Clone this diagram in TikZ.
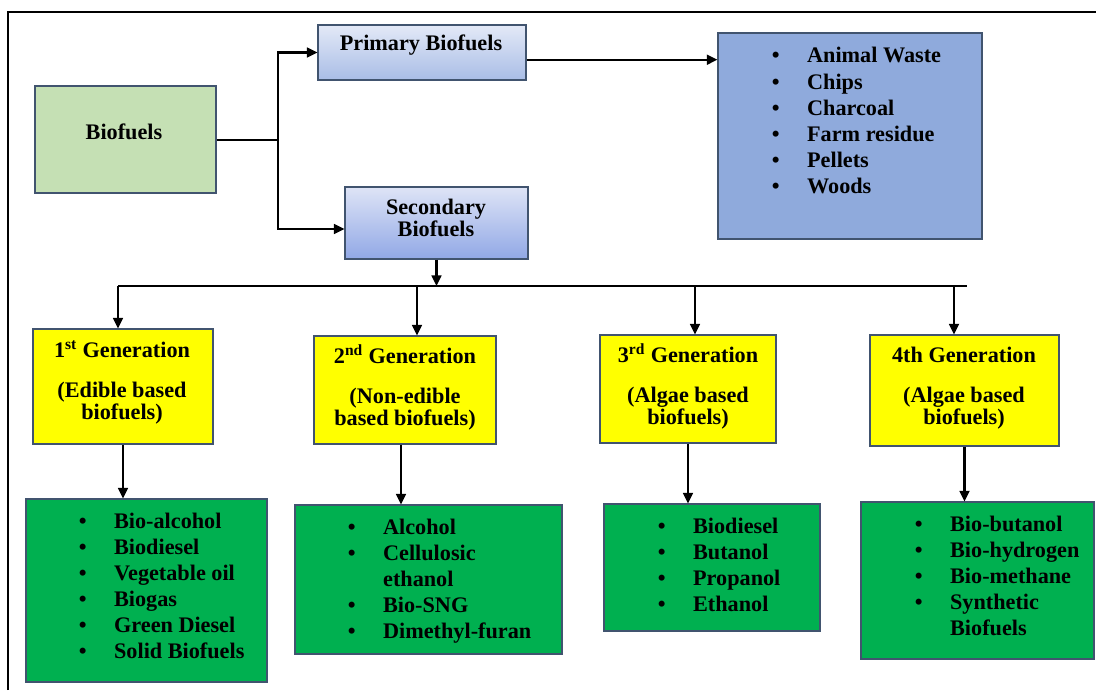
\documentclass[tikz,border=0pt]{standalone}
\usepackage{fontspec}
\setmainfont{Liberation Serif}
\usetikzlibrary{arrows.meta,fit}

\definecolor{boxline}{HTML}{41546F}
\definecolor{biogreen}{HTML}{C5E0B4}
\definecolor{primtop}{HTML}{E3E9F7}
\definecolor{primbot}{HTML}{A9BDE6}
\definecolor{sectop}{HTML}{DEE4F6}
\definecolor{secbot}{HTML}{91A8E6}
\definecolor{listblue}{HTML}{8FAADC}
\definecolor{genyellow}{HTML}{FFFF00}
\definecolor{listgreen}{HTML}{00B050}

\newcommand{\fuellist}[1]{\begin{tabular}[t]{@{}p{25pt}@{}l@{}}#1\end{tabular}}
\newcommand{\genlabel}[3]{\begin{tabular}[t]{@{}c@{}}#1\\[12.5pt]#2\\#3\end{tabular}}

\begin{document}
\begin{tikzpicture}[
  x=0.025cm, y=-0.025cm,
  box/.style={draw=boxline, line width=0.8pt, inner sep=0pt},
  lbl/.style={inner sep=0pt, anchor=base, font=\bfseries\fontsize{15.8}{16}\selectfont},
  items/.style={inner sep=0pt, anchor=base west, font=\bfseries\fontsize{15.8}{18.5}\selectfont},
  link/.style={line width=1.5pt},
  arr/.style={link, -{Triangle[length=7.5pt,width=7pt]}}
]
\useasboundingbox (0,0) rectangle (1096,690);
\draw[line width=1.4pt] (8,690) -- (8,12) -- (1096,12);

% top part
\node[box, fill=biogreen, fit={(35,86) (216,193)}] (bio) {};
\node[lbl] (biotxt) at (124,139) {Biofuels};

\node[box, top color=primtop, bottom color=primbot, fit={(318,25) (526,80)}] (prim) {};
\node[lbl] (primtxt) at (421,51) {Primary Biofuels};

\node[box, top color=sectop, bottom color=secbot, fit={(345,187) (528,259)}] (sec) {};
\node[lbl] (sectxt) at (436,214) {\begin{tabular}[t]{@{}c@{}}Secondary\\Biofuels\end{tabular}};

\node[box, fill=listblue, fit={(718,33) (982,239)}] (prims) {};
\node[items] (primlist) at (771.7,63) {\fuellist{%
  \textbullet & Animal Waste\\
  \textbullet & Chips\\
  \textbullet & Charcoal\\
  \textbullet & Farm residue\\
  \textbullet & Pellets\\
  \textbullet & Woods}};

\coordinate (jn) at (278,140);
\draw[link] (bio.east |- jn) -- (jn);
\draw[arr] (jn) |- (prim.west);
\draw[arr] (jn) |- ([yshift=-0.15cm]sec.west);
\draw[arr] ([yshift=-0.18cm]prim.east) -- ([yshift=-0.18cm]prim.east -| prims.west);

% generations
\node[box, fill=genyellow, fit={(33,329) (213,444)}] (g1) {};
\node[lbl] (g1txt) at (122,357) {\genlabel{1\textsuperscript{st} Generation}{(Edible based}{biofuels)}};
\node[box, fill=genyellow, fit={(314,336) (496,444)}] (g2) {};
\node[lbl] (g2txt) at (405,363) {\genlabel{2\textsuperscript{nd} Generation}{(Non-edible}{based biofuels)}};
\node[box, fill=genyellow, fit={(600,335) (776,443)}] (g3) {};
\node[lbl] (g3txt) at (688,362) {\genlabel{3\textsuperscript{rd} Generation}{(Algae based}{biofuels)}};
\node[box, fill=genyellow, fit={(870,335) (1059,446)}] (g4) {};
\node[lbl] (g4txt) at (964,362) {\genlabel{4th Generation}{(Algae based}{biofuels)}};

\coordinate (busL) at (118,286);
\coordinate (busR) at (967,286);
\coordinate (b2) at (417,286);
\coordinate (b3) at (695,286);
\coordinate (b4) at (954,286);
\draw[link] (busL) -- (busR);
\draw[arr] (sec.south) -- (sec.south |- busL);
\draw[arr] (busL) -- (busL |- g1.north);
\draw[arr] (b2) -- (b2 |- g2.north);
\draw[arr] (b3) -- (b3 |- g3.north);
\draw[arr] (b4) -- (b4 |- g4.north);

% products
\node[box, fill=listgreen, fit={(26,499) (267,682)}] (p1) {};
\node[items] (p1list) at (78.7,528) {\fuellist{%
  \textbullet & Bio-alcohol\\
  \textbullet & Biodiesel\\
  \textbullet & Vegetable oil\\
  \textbullet & Biogas\\
  \textbullet & Green Diesel\\
  \textbullet & Solid Biofuels}};
\node[box, fill=listgreen, fit={(295,505) (562,654)}] (p2) {};
\node[items] (p2list) at (347.7,534) {\fuellist{%
  \textbullet & Alcohol\\
  \textbullet & Cellulosic\\
              & ethanol\\
  \textbullet & Bio-SNG\\
  \textbullet & Dimethyl-furan}};
\node[box, fill=listgreen, fit={(604,504) (820,631)}] (p3) {};
\node[items] (p3list) at (657.7,533) {\fuellist{%
  \textbullet & Biodiesel\\
  \textbullet & Butanol\\
  \textbullet & Propanol\\
  \textbullet & Ethanol}};
\node[box, fill=listgreen, fit={(861,502) (1094,659)}] (p4) {};
\node[items] (p4list) at (914.7,531) {\fuellist{%
  \textbullet & Bio-butanol\\
  \textbullet & Bio-hydrogen\\
  \textbullet & Bio-methane\\
  \textbullet & Synthetic\\
              & Biofuels}};

\draw[arr] (g1.south) -- (g1.south |- p1.north);
\draw[arr] ([xshift=-0.1cm]g2.south) -- ([xshift=-0.1cm]g2.south |- p2.north);
\draw[arr] (g3.south) -- (g3.south |- p3.north);
\draw[arr] (g4.south) -- (g4.south |- p4.north);
\end{tikzpicture}
\end{document}
